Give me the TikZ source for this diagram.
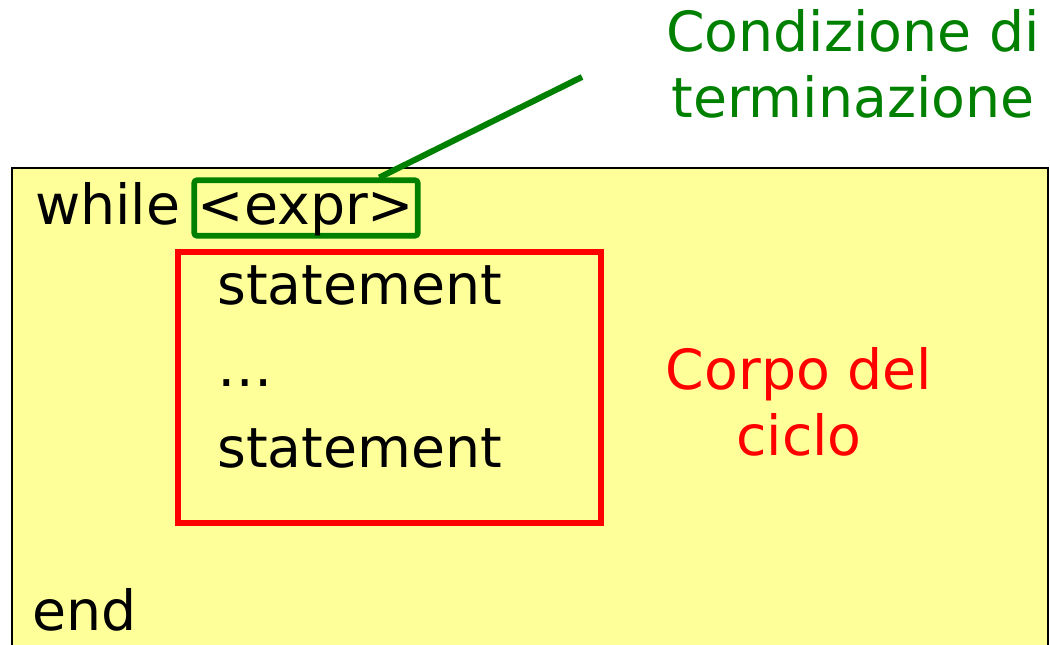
\documentclass[tikz,border=0pt]{standalone}
\usepackage{fontspec}
\setmainfont{DejaVu Sans}
\usetikzlibrary{calc}
\definecolor{codebg}{HTML}{FFFF99}
\definecolor{condgreen}{HTML}{008000}

\begin{document}
\begin{tikzpicture}[x=0.75pt,y=-0.75pt,
            every node/.style={font=\fontsize{41.5}{49.5}\selectfont, inner sep=0pt},
            code/.style={anchor=base west},
            note/.style={align=center, anchor=base}]
            \tikzstyle{condbox}=[draw=condgreen, line width=4.2pt, rounded corners=2pt,
                minimum width=167.6pt, minimum height=41.6pt,
                text height=30pt, text depth=4.5pt]
            \tikzstyle{bodybox}=[draw=red, line width=4.5pt,
                minimum width=317.25pt, minimum height=203.25pt]

            \useasboundingbox (0,0) rectangle (1050,645);
            \draw[fill=codebg, line width=1.2pt] (12,168) rectangle (1048,660);

            \node[code]    (W)  at (35,225)  {while};
            \node[condbox] (E)  at (306,208) {<expr>};
            \node[bodybox] (B)  at (389.5,387.5) {};
            \node[code]    (S1) at (217,305) {statement};
            \node[code]    (D)  at (217,387) {…};
            \node[code]    (S2) at (217,467) {statement};
            \node[code]    (N)  at (32,630)  {end};

            % base of a two-line note is its last line
            \node[note, text=red]        (C) at (799,455) {Corpo del\\ciclo};
            \node[note, text=condgreen]  (T) at (853,118) {Condizione di\\terminazione};

            \coordinate (P) at (582,77);
            \draw[condgreen, line width=4.5pt] ($(E.north west)!0.82!(E.north east)$) -- (P);

        \end{tikzpicture}
\end{document}
